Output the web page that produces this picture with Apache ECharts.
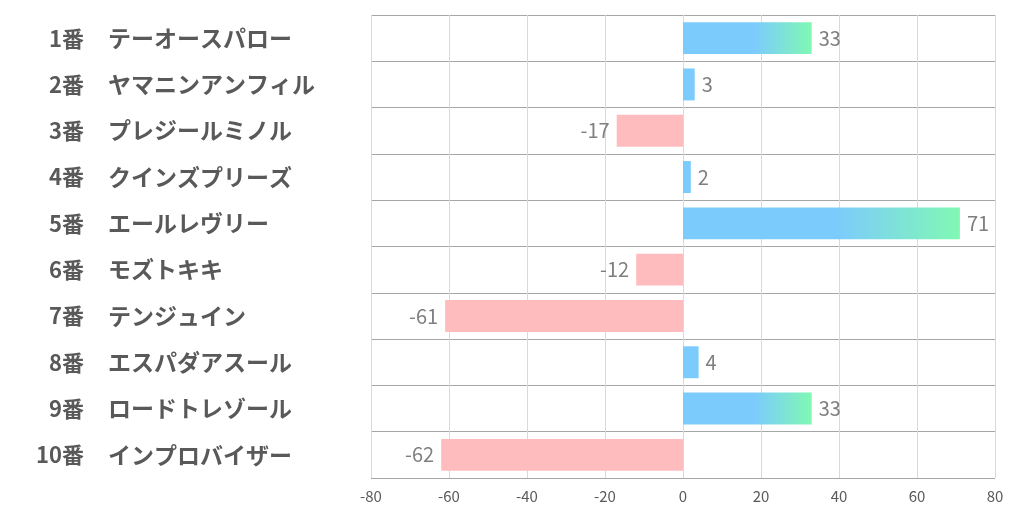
<!DOCTYPE html>
<html><head><meta charset="utf-8">
<script src="https://cdn.jsdelivr.net/npm/echarts@6/dist/echarts.min.js"></script>
<style>html,body{margin:0;padding:0;background:#fff}#c{width:1022px;height:522px}</style>
</head><body><div id="c"></div>
<script>
const numbers = ['1番','2番','3番','4番','5番','6番','7番','8番','9番','10番'];
const names = ['テーオースパロー','ヤマニンアンフィル','プレジールミノル','クインズプリーズ','エールレヴリー','モズトキキ','テンジュイン','エスパダアスール','ロードトレゾール','インプロバイザー'];
const values = [33, 3, -17, 2, 71, -12, -61, 4, 33, -62];
const tickMin = -80, tickMax = 80, tickStep = 20;

const BLUE = '#7ccbfd', GREEN = '#80f8b4', PINK = '#ffbcbf';
const FONT = '"Noto Sans CJK JP", "Noto Sans", sans-serif';

const chart = echarts.init(document.getElementById('c'), null, {renderer:'canvas'});
chart.setOption({
  animation: false,
  backgroundColor: '#fff',
  grid: {left: 371, right: 27, top: 15, bottom: 44, containLabel: false},
  xAxis: {
    type: 'value', min: tickMin, max: tickMax, interval: tickStep,
    axisLine: {show: false}, axisTick: {show: false},
    splitLine: {show: true, lineStyle: {color: '#d9d9d9', width: 1}},
    axisLabel: {color: '#595959', fontSize: 15, fontFamily: FONT, margin: 11}
  },
  yAxis: [{
    type: 'category', data: numbers, inverse: true,
    axisLine: {show: false}, axisTick: {show: false},
    splitLine: {show: true, lineStyle: {color: '#a6a6a6', width: 1}},
    axisLabel: {color: '#595959', fontSize: 22, fontWeight: 'bold', fontFamily: FONT, margin: 287, align: 'right'}
  }, {
    type: 'category', data: names, inverse: true, position: 'left', offset: 0,
    axisLine: {show: false}, axisTick: {show: false}, splitLine: {show: false},
    axisLabel: {color: '#595959', fontSize: 23, fontWeight: 'bold', fontFamily: FONT, margin: 263, align: 'left'}
  }],
  series: [{
    type: 'bar', yAxisIndex: 0, barWidth: '69%',
    data: values.map(v => ({
      value: v,
      itemStyle: {
        color: v < 0 ? PINK : (v >= 10 ? new echarts.graphic.LinearGradient(0, 0, 1, 0, [
          {offset: 0, color: BLUE}, {offset: 0.55, color: BLUE}, {offset: 1, color: GREEN}
        ]) : BLUE)
      },
      label: {position: v < 0 ? 'left' : 'right'}
    })),
    label: {show: true, color: '#7f7f7f', fontSize: 20, fontFamily: FONT, distance: 7}
  }]
});
</script></body></html>
